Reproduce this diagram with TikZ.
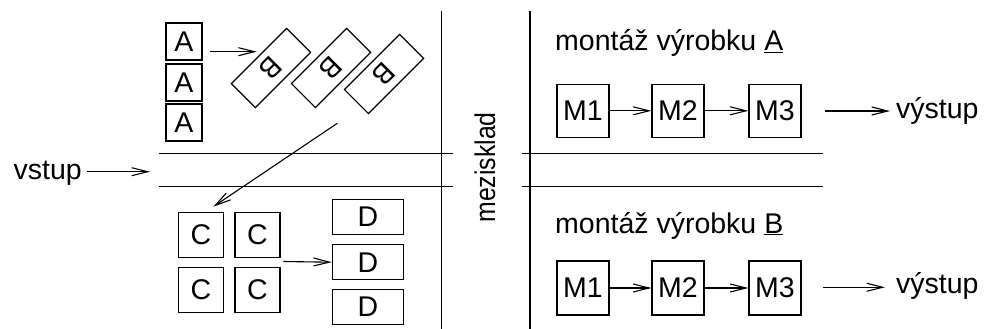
\documentclass[tikz,border=0pt]{standalone}
\usepackage{fontspec}
\setmainfont{Liberation Sans}
\usetikzlibrary{arrows.meta}
\begin{document}
\begin{tikzpicture}[x=1pt,y=-1pt,
  txt/.style={font=\fontsize{28.5}{34}\selectfont},
  box/.style={draw, line width=1.2pt, inner sep=0pt, txt},
  lbl/.style={inner sep=0pt, txt},
  arr/.style={-{Straight Barb[length=16pt,width=8pt]}, line width=1.1pt},
  sepline/.style={line width=1.5pt}]
\useasboundingbox (0,0) rectangle (985,329);
% separators
\draw[sepline] (441.7,11) -- (441.7,329);
\draw[sepline] (530,11) -- (530,329);
\draw[sepline] (159.3,153.3) -- (452.7,153.3);
\draw[sepline] (159.3,186.3) -- (452.7,186.3);
\draw[sepline] (521.7,153.3) -- (823,153.3);
\draw[sepline] (521.7,186.3) -- (823,186.3);
% A boxes
\node[box, minimum width=36pt, minimum height=37pt] (A1) at (184,41.5) {A};
\node[box, minimum width=36pt, minimum height=37pt] (A2) at (184,82.5) {A};
\node[box, minimum width=36pt, minimum height=37pt] (A3) at (184,122.5) {A};
% B boxes
\node[box, minimum width=78pt, minimum height=34pt, rotate=-135] (B1) at (271,68) {B};
\node[box, minimum width=78pt, minimum height=34pt, rotate=-135] (B2) at (331,68) {B};
\node[box, minimum width=78pt, minimum height=34pt, rotate=-135] (B3) at (384,74) {B};
\coordinate (ab1) at (210,51.7);
\coordinate (ab2) at (256.7,51.7);
\draw[arr] (ab1) -- (ab2);
% C boxes
\node[box, minimum size=45pt] (C1) at (200.8,234.8) {C};
\node[box, minimum size=45pt] (C2) at (257.5,234.8) {C};
\node[box, minimum size=45pt] (C3) at (200.8,289.8) {C};
\node[box, minimum size=45pt] (C4) at (257.5,289.8) {C};
% D boxes
\node[box, minimum width=71pt, minimum height=35pt] (D1) at (367.8,216.7) {D};
\node[box, minimum width=71pt, minimum height=35pt] (D2) at (367.8,262.2) {D};
\node[box, minimum width=71pt, minimum height=35pt] (D3) at (367.8,306.7) {D};
\coordinate (bc1) at (337.3,123.3);
\coordinate (bc2) at (213.3,206.7);
\draw[arr] (bc1) -- (bc2);
\coordinate (cd1) at (283.3,261.5);
\draw[arr] (cd1) -- (D2.west);
% vstup
\node[lbl, anchor=base east] (vstup) at (82,179) {vstup};
\coordinate (vs1) at (87,171.7);
\coordinate (vs2) at (150,171.7);
\draw[arr] (vs1) -- (vs2);
% mezisklad
\node[lbl, rotate=90] (mez) at (485,167.5) {\scalebox{0.87}[1]{mezisklad}};
% top assembly
\node[lbl, anchor=base west] (labA) at (555,51) {montáž výrobku \underline{A}};
\node[box, minimum width=52pt, minimum height=53pt] (M1a) at (583,110.8) {M1};
\node[box, minimum width=52pt, minimum height=53pt] (M2a) at (678,110.8) {M2};
\node[box, minimum width=52pt, minimum height=53pt] (M3a) at (775,110.8) {M3};
\draw[arr] (M1a) -- (M2a);
\draw[arr] (M2a) -- (M3a);
\node[lbl, anchor=base west] (outA) at (896,118.5) {výstup};
\coordinate (oa1) at (825,111);
\coordinate (oa2) at (890,111);
\draw[arr] (oa1) -- (oa2);
% bottom assembly
\node[lbl, anchor=base west] (labB) at (555,233) {montáž výrobku \underline{B}};
\node[box, minimum width=52pt, minimum height=54pt] (M1b) at (583,288) {M1};
\node[box, minimum width=52pt, minimum height=54pt] (M2b) at (678,288) {M2};
\node[box, minimum width=52pt, minimum height=54pt] (M3b) at (775,288) {M3};
\draw[arr] (M1b) -- (M2b);
\draw[arr] (M2b) -- (M3b);
\node[lbl, anchor=base west] (outB) at (896,293) {výstup};
\coordinate (ob1) at (823,287.3);
\coordinate (ob2) at (885,287.3);
\draw[arr] (ob1) -- (ob2);
\end{tikzpicture}
\end{document}
